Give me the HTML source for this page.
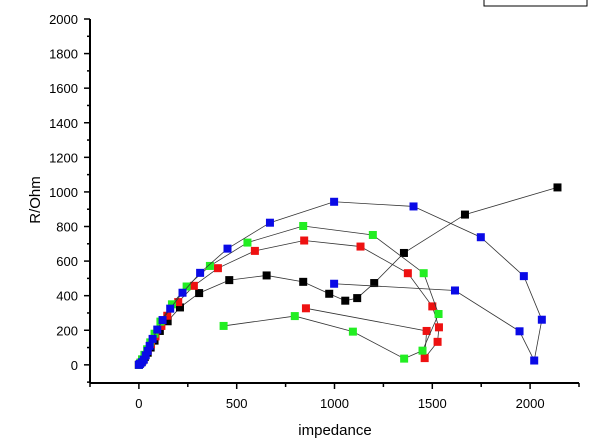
<!DOCTYPE html>
<html><head><meta charset="utf-8"><style>
body{margin:0;background:#fff}
svg{display:block;font-family:"Liberation Sans",Arial,sans-serif}
</style></head><body>
<svg id="chart" width="600" height="446">
<rect x="484" y="-2" width="103" height="8" fill="#fff" stroke="#000" stroke-width="1"/>
<g id="axes"></g><g id="series"></g>
</svg>
<script>
const xTicks=[0,500,1000,1500,2000];
const yTicks=[0,200,400,600,800,1000,1200,1400,1600,1800,2000];
const seriesNames=["black","red","green","blue"];
const blackX=[0,8,18,30,45,60,80,107,147,210,308,462,653,840,973,1055,1116,1203,1355,1667,2140];
const blackY=[0,10,25,45,70,100,140,196,252,332,415,490,517,480,411,371,386,473,647,869,1026];
const redX=[0,8,18,30,45,62,85,115,145,201,281,404,593,845,1133,1375,1500,1534,1527,1461,1471,854];
const redY=[0,12,30,55,85,120,165,225,284,363,457,559,659,719,684,530,338,217,133,39,196,327];
const greenX=[0,7,16,28,42,58,80,110,169,244,363,555,840,1196,1456,1532,1450,1356,1094,797,433];
const greenY=[0,12,32,58,90,130,180,250,350,453,572,707,803,751,530,294,82,36,192,282,225];
const blueX=[0,5,15,25,35,45,55,70,94,121,160,223,313,453,670,998,1404,1748,1968,2060,2021,1946,1616,998];
const blueY=[0,5,15,30,55,80,110,150,204,259,325,417,532,672,822,943,916,738,513,261,25,194,430,469];
const colors={black:"#000000",red:"#ee1111",green:"#22ee22",blue:"#0a0ae6"};
const data={black:[blackX,blackY],red:[redX,redY],green:[greenX,greenY],blue:[blueX,blueY]};
const X0=90,X1=579,XMIN=-250,XMAX=2250,Y0=383,Y1=19,YMIN=-105,YMAX=2000;
const sx=v=>X0+(v-XMIN)/(XMAX-XMIN)*(X1-X0);
const sy=v=>Y0-(v-YMIN)/(YMAX-YMIN)*(Y0-Y1);
const NS="http://www.w3.org/2000/svg";
function mk(t,a,p){const e=document.createElementNS(NS,t);for(const k in a)e.setAttribute(k,a[k]);p.appendChild(e);return e;}
const ax=document.getElementById('axes');
let e=mk('line',{x1:X0,y1:Y0,x2:X1,y2:Y0,stroke:"#000","stroke-width":2},ax);


e=mk('line',{x1:X0,y1:Y0,x2:X0,y2:Y1,stroke:"#000","stroke-width":2},ax);


for(let v=-250;v<=2250;v+=250){const major=v%500===0;mk('line',{x1:sx(v),y1:Y0,x2:sx(v),y2:Y0+(major?6:4),stroke:"#000","stroke-width":1.5},ax);}
xTicks.forEach(v=>{const t=mk('text',{x:sx(v),y:Y0+25,"font-size":13,"text-anchor":"middle"},ax);t.textContent=v;

});
for(let v=-100;v<=2000;v+=100){const major=v%200===0;mk('line',{x1:X0,y1:sy(v),x2:X0-(major?6:3),y2:sy(v),stroke:"#000","stroke-width":1.5},ax);}
yTicks.forEach(v=>{const t=mk('text',{x:X0-12,y:sy(v)+5,"font-size":13,"text-anchor":"end"},ax);t.textContent=v;

});
let t=mk('text',{x:335,y:435,"font-size":15,"text-anchor":"middle"},ax);t.textContent="impedance";


t=mk('text',{x:0,y:0,"font-size":15,"text-anchor":"middle",transform:"translate(40,200) rotate(-90)"},ax);t.textContent="R/Ohm";


const sg=document.getElementById('series');
seriesNames.forEach(n=>{const [xs,ys]=data[n];
const pl=mk('polyline',{points:xs.map((x,i)=>sx(x)+","+sy(ys[i])).join(" "),fill:"none",stroke:"#333","stroke-width":0.8},sg);


xs.forEach((x,i)=>{const r=mk('rect',{x:sx(x)-4,y:sy(ys[i])-4,width:8,height:8,fill:colors[n]},sg);

});});
</script>
</body></html>
